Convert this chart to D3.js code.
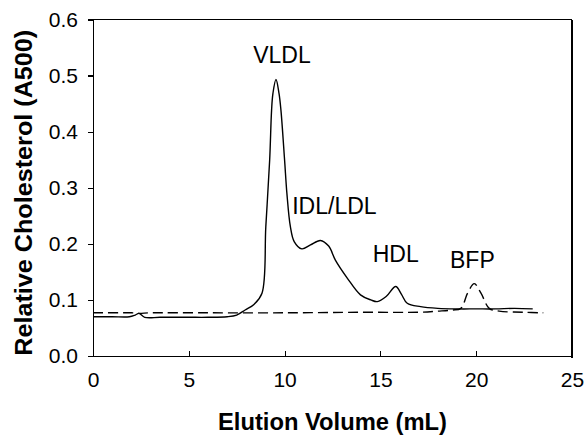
<!DOCTYPE html>
<head>
    <meta charset="utf-8" />
    <title>Lipoprotein elution profile</title>
</head>
<style>
    body {
        margin: 0;
        background: #fff;
    }

    text {
        font-family: "Liberation Sans", Arial, sans-serif;
        fill: #000;
    }

    .axis path,
    .axis line {
        fill: none;
        stroke: #000;
        stroke-width: 1.2px;
        shape-rendering: crispEdges;
    }

    .trace {
        fill: none;
        stroke: #000;
        stroke-width: 1.4px;
    }
</style>
<body>
    <svg id="chart" width="584" height="435"></svg>

    <script src="https://d3js.org/d3.v7.min.js"></script>
    <script>
        // solid trace: elution volume (mL) vs relative cholesterol
        var solidVol = [0, 1, 1.9, 2.2, 2.4, 2.7, 3.5, 5, 6, 7, 7.5, 7.94, 8.4, 8.82, 9.02, 9.22, 9.32, 9.39, 9.55,
            9.71, 9.81, 10.0, 10.12, 10.3, 10.5, 10.9, 11.35, 11.87, 12.3, 12.65, 13.27, 13.96, 14.5, 14.84,
            15.3, 15.8, 16.1, 16.4, 17.1, 18, 19, 20, 21, 22, 22.95];
        var solidAbs = [0.070, 0.070, 0.070, 0.073, 0.076, 0.069, 0.069, 0.069, 0.069, 0.070, 0.073, 0.082, 0.092, 0.112, 0.231, 0.349, 0.438, 0.468, 0.493,
            0.468, 0.438, 0.349, 0.290, 0.231, 0.204, 0.191, 0.198, 0.206, 0.196, 0.171, 0.139, 0.109, 0.100, 0.097,
            0.106, 0.124, 0.110, 0.094, 0.088, 0.085, 0.084, 0.084, 0.084, 0.085, 0.084];

        // dashed trace (BFP standard)
        var dashVol = [0, 2, 2.4, 3, 6, 10, 14, 17, 17.98, 18.76, 19.2, 19.55, 19.9, 20.25, 20.68, 21.2, 22.5, 23.5];
        var dashAbs = [0.077, 0.077, 0.076, 0.077, 0.077, 0.077, 0.078, 0.078, 0.080, 0.082, 0.085, 0.112, 0.129, 0.112, 0.085, 0.080, 0.078, 0.077];

        var peakNames = ["VLDL", "IDL/LDL", "HDL", "BFP"];
        var peakVol = [9.86, 12.6, 15.8, 19.8];
        var peakAbs = [0.523, 0.253, 0.168, 0.157];

        var xTicks = [0, 5, 10, 15, 20, 25];
        var yTicks = [0, 0.1, 0.2, 0.3, 0.4, 0.5, 0.6];

        var margin = { top: 19.5, right: 12, bottom: 79, left: 93 };
        var width = 584 - margin.left - margin.right,
            height = 435 - margin.top - margin.bottom;

        var svg = d3.select("#chart")
            .append("g")
            .attr("transform", "translate(" + margin.left + "," + margin.top + ")");

        var x = d3.scaleLinear().domain([0, 25]).range([0, width]);
        var y = d3.scaleLinear().domain([0, 0.6]).range([height, 0]);

        // box: top and right edges
        svg.append("line")
            .attr("x1", 0).attr("x2", width)
            .attr("y1", 0).attr("y2", 0)
            .attr("stroke", "#000").attr("stroke-width", 1.2)
            .attr("shape-rendering", "crispEdges");
        svg.append("line")
            .attr("x1", width).attr("x2", width)
            .attr("y1", 0).attr("y2", height + 2)
            .attr("stroke", "#000").attr("stroke-width", 1.2)
            .attr("shape-rendering", "crispEdges");

        var xAxis = svg.append("g")
            .attr("class", "x axis")
            .attr("transform", "translate(0," + height + ")")
            .call(d3.axisBottom(x).tickValues(xTicks).tickSizeInner(-5).tickSizeOuter(0).tickPadding(16));
        xAxis.selectAll("text").attr("font-size", "21px").attr("dy", "0.71em");

        var yAxis = svg.append("g")
            .attr("class", "y axis")
            .call(d3.axisLeft(y).tickValues(yTicks).tickSizeInner(5).tickSizeOuter(0).tickPadding(10)
                .tickFormat(d3.format(".1f")));
        yAxis.selectAll("text").attr("font-size", "21px");
        svg.selectAll(".domain").attr("stroke", "#000");

        var line = d3.line()
            .x(function(d) { return x(d[0]); })
            .y(function(d) { return y(d[1]); })
            .curve(d3.curveCatmullRom.alpha(0.5));

        svg.append("path")
            .attr("class", "trace")
            .attr("stroke-dasharray", "10,5")
            .attr("d", line(d3.zip(dashVol, dashAbs)));

        svg.append("path")
            .attr("class", "trace")
            .attr("d", line(d3.zip(solidVol, solidAbs)));

        // peak labels
        svg.selectAll(".peak")
            .data(peakNames)
            .enter().append("text")
            .attr("class", "peak")
            .attr("text-anchor", "middle")
            .attr("font-size", "23px")
            .attr("x", function(d, i) { return x(peakVol[i]); })
            .attr("y", function(d, i) { return y(peakAbs[i]); })
            .text(function(d) { return d; });

        // axis titles
        svg.append("text")
            .attr("text-anchor", "middle")
            .attr("font-size", "23px")
            .attr("font-weight", "bold")
            .attr("textLength", 229)
            .attr("lengthAdjust", "spacingAndGlyphs")
            .attr("x", width / 2)
            .attr("y", height + 74)
            .text("Elution Volume (mL)");

        svg.append("text")
            .attr("text-anchor", "middle")
            .attr("font-size", "23px")
            .attr("font-weight", "bold")
            .attr("textLength", 326)
            .attr("lengthAdjust", "spacingAndGlyphs")
            .attr("transform", "translate(" + (-61) + "," + (height / 2 + 5) + ") rotate(-90)")
            .text("Relative Cholesterol (A500)");
    </script>
</body>
